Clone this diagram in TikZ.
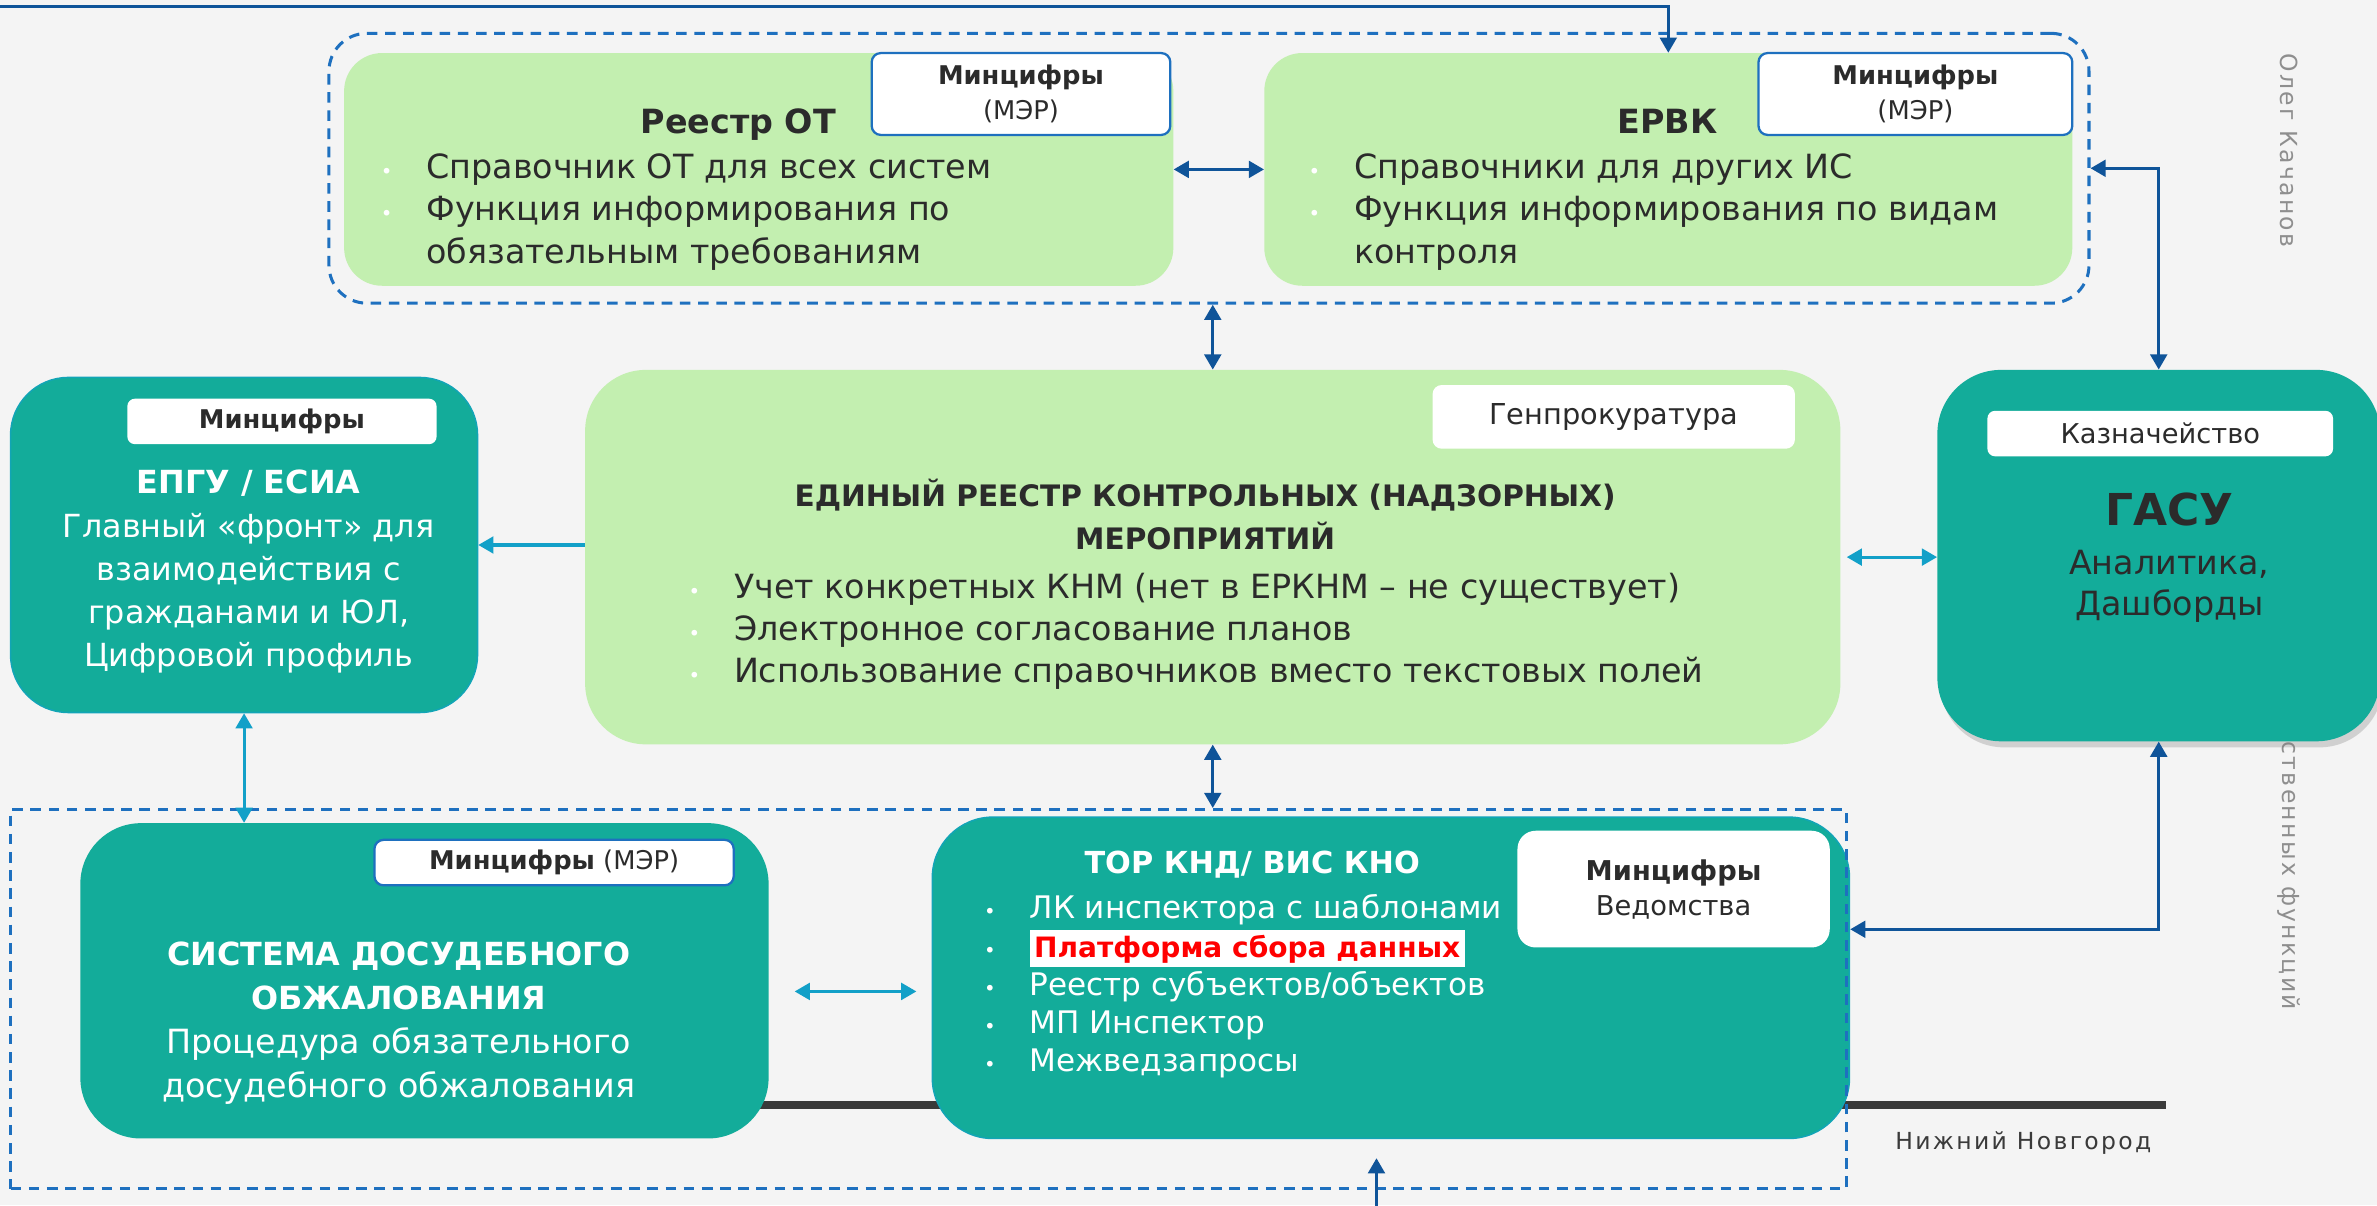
\documentclass[tikz,border=0pt]{standalone}
\usepackage{fontspec}
\setmainfont{DejaVu Sans}
\newfontfamily\spacedfont[LetterSpace=10]{DejaVu Sans}
\usepackage{xcolor}
\usepackage{tikz}
\usetikzlibrary{positioning,arrows.meta,shadows}

\definecolor{bggray}{HTML}{F4F4F4}
\definecolor{lightgreen}{HTML}{C3EFB0}
\definecolor{tealfill}{HTML}{13AC9A}
\definecolor{dashblue}{HTML}{1E70BF}
\definecolor{darkblue}{HTML}{0F5499}
\definecolor{lightblue}{HTML}{12A0C8}
\definecolor{darktext}{HTML}{2B2B2B}
\definecolor{graytext}{HTML}{8E8E8E}
\definecolor{rulegray}{HTML}{3A3A3A}

\newcommand{\bul}{\makebox[30pt][l]{\textcolor{white}{\fontsize{13}{13}\selectfont\textbullet}}}
\newcommand{\cont}{\makebox[30pt]{}}

\begin{document}
\begin{tikzpicture}[x=1pt, y=-1pt,
  greenbox/.style={fill=lightgreen, rounded corners=25pt, inner sep=0pt},
  tealnode/.style={fill=tealfill, rounded corners=40pt, inner sep=0pt},
  group/.style={draw=dashblue, line width=2pt, dash pattern=on 7pt off 5pt, inner sep=0pt},
  tag/.style={fill=white, rounded corners=6pt, inner sep=0pt, text=darktext, align=center, font=\fontsize{17}{23}\selectfont},
  bluetag/.style={tag, draw=dashblue, line width=1.5pt},
  boxtitle/.style={font=\fontsize{22}{28}\selectfont\bfseries, inner sep=0pt, anchor=base},
  list/.style={align=left, anchor=north west, inner sep=0pt, font=\fontsize{22}{28}\selectfont},
  link/.style={line width=2pt, -{Triangle[length=10pt,width=11pt]}},
  bilink/.style={line width=2pt, {Triangle[length=10pt,width=11pt]}-{Triangle[length=10pt,width=11pt]}},
  side/.style={text=graytext, rotate=-90, inner sep=0pt, anchor=west, font=\spacedfont\fontsize{15.5}{16}\selectfont}
]
\fill[bggray] (0,0) rectangle (1568,795);
\useasboundingbox (0,0) rectangle (1568,795);

% thick rule behind the lower boxes
\coordinate (ruleleft) at (490,729);
\coordinate (ruleright) at (1429,729);
\draw[rulegray, line width=5pt] (ruleleft) -- (ruleright);

% side captions
\node[side] (author) at (1510,35) {Олег Качанов};
\node[side] (footer) at (1510,478) {оственных функций};
\node[anchor=west, inner sep=0pt, text=rulegray, font=\spacedfont\fontsize{15.5}{16}\selectfont] (city) at (1250,754) {Нижний Новгород};

% top group
\node[group, rounded corners=25pt, minimum width=1161pt, minimum height=178pt] (topgrp) at (797.5,111) {};
\node[greenbox, minimum width=547pt, minimum height=153.5pt] (reestr) at (500.5,111.75) {};
\node[greenbox, minimum width=533pt, minimum height=153.5pt] (ervk) at (1100.5,111.75) {};

\node[boxtitle, text=darktext] (reestrtitle) at (487,88) {Реестр ОТ};
\node[list, text=darktext] (reestrlist) at (251,101) {\bul Справочник ОТ для всех систем\\ \bul Функция информирования по\\ \cont обязательным требованиям};
\node[boxtitle, text=darktext] (ervktitle) at (1100,88) {ЕРВК};
\node[list, text=darktext] (ervklist) at (863,101) {\bul Справочники для других ИС\\ \bul Функция информирования по видам\\ \cont контроля};

\node[bluetag, minimum width=197pt, minimum height=54pt] (reestrtag) at (673.5,62) {{\bfseries Минцифры}\\(МЭР)};
\node[bluetag, minimum width=207pt, minimum height=54pt] (ervktag) at (1263.5,62) {{\bfseries Минцифры}\\(МЭР)};

% middle row
\node[greenbox, rounded corners=40pt, minimum width=828pt, minimum height=247pt] (erknm) at (800,367.5) {};
\node[inner sep=0pt, anchor=north, align=center, text=darktext, font=\fontsize{19.5}{28}\selectfont\bfseries] (erknmtitle) at (795,316) {ЕДИНЫЙ РЕЕСТР КОНТРОЛЬНЫХ (НАДЗОРНЫХ)\\ МЕРОПРИЯТИЙ};
\node[list, text=darktext, font=\fontsize{22}{27.5}\selectfont] (erknmlist) at (454,378) {\bul Учет конкретных КНМ (нет в ЕРКНМ – не существует)\\ \bul Электронное согласование планов\\ \bul Использование справочников вместо текстовых полей};
\node[tag, font=\fontsize{19}{23}\selectfont, minimum width=239pt, minimum height=42pt] (erknmtag) at (1064.5,275) {Генпрокуратура};

\node[tealnode, rounded corners=38pt, draw=lightblue!60!tealfill, line width=1pt, minimum width=308pt, minimum height=221pt] (epgu) at (161,359.5) {};
\node[inner sep=0pt, anchor=north, align=center, text=white, font=\fontsize{21}{28.5}\selectfont] (epgutext) at (164,310) {{\bfseries ЕПГУ / ЕСИА}\\ Главный «фронт» для\\ взаимодействия с\\ гражданами и ЮЛ,\\ Цифровой профиль};
\node[tag, font=\fontsize{17}{23}\selectfont\bfseries, rounded corners=5pt, minimum width=204pt, minimum height=30pt] (epgutag) at (186,278) {Минцифры};

\node[tealnode, rounded corners=42pt, drop shadow={shadow xshift=2pt, shadow yshift=-4pt, opacity=0.3}, minimum width=292pt, minimum height=245pt] (gasu) at (1424,366.5) {};
\node[boxtitle, text=darktext, font=\fontsize{29}{32}\selectfont\bfseries] (gasutitle) at (1431,346.5) {ГАСУ};
\node[inner sep=0pt, anchor=base, align=center, text=darktext, font=\fontsize{22}{27}\selectfont] (gasutext) at (1431,406) {Аналитика,\\ Дашборды};
\node[tag, font=\fontsize{18}{23}\selectfont, rounded corners=5pt, minimum width=228pt, minimum height=30pt] (gasutag) at (1425,286) {Казначейство};

% bottom row
\node[tealnode, minimum width=454pt, minimum height=208pt] (sys) at (280,647) {};
\node[inner sep=0pt, anchor=north, align=center, text=white, font=\fontsize{22}{29}\selectfont] (systext) at (263,621) {{\bfseries\fontsize{21}{29}\selectfont СИСТЕМА ДОСУДЕБНОГО}\\ {\bfseries\fontsize{21}{29}\selectfont ОБЖАЛОВАНИЯ}\\ Процедура обязательного\\ досудебного обжалования};
\node[bluetag, minimum width=237pt, minimum height=30pt] (systag) at (365.5,569) {{\bfseries Минцифры} (МЭР)};

\node[tealnode, draw=lightblue!60!tealfill, line width=1pt, minimum width=605pt, minimum height=212pt] (tor) at (917.5,645) {};
\node[boxtitle, text=white, font=\fontsize{20}{25}\selectfont\bfseries] (tortitle) at (826,576) {ТОР КНД/ ВИС КНО};
\node[list, text=white, font=\fontsize{20.5}{25.2}\selectfont] (torlist) at (649,590) {\bul ЛК инспектора с шаблонами\\ \bul{\setlength{\fboxsep}{3pt}\colorbox{white}{\textcolor{red}{\bfseries\fontsize{18.5}{25.2}\selectfont Платформа сбора данных}}}\\ \bul Реестр субъектов/объектов\\ \bul МП Инспектор\\ \bul Межведзапросы};
\node[tag, rounded corners=12pt, font=\fontsize{18}{23}\selectfont, minimum width=206pt, minimum height=77pt] (tortag) at (1104,586.5) {{\bfseries Минцифры}\\ Ведомства};

\node[group, minimum width=1211pt, minimum height=250pt] (botgrp) at (612.5,659) {};

% connectors
\coordinate (topfeed) at (0,4);
\draw[darkblue, link] (topfeed) -| (ervk.north);
\draw[darkblue, bilink] (reestr.east) -- (ervk.west);
\draw[darkblue, bilink] (topgrp.south -| erknm.north) -- (erknm.north);
\draw[darkblue, bilink] (topgrp.east) -| (gasu.north);
\draw[darkblue, bilink] (gasu.south) |- ([yshift=32pt]tor.east);
\draw[darkblue, bilink] (erknm.south) -- (erknm.south |- botgrp.north);
\coordinate (botfeed) at (908,800);
\coordinate (botgrpin) at (908,764);
\draw[darkblue, link] (botfeed) -- (botgrpin);

\draw[lightblue, link] (erknm.west |- epgu.east) -- (epgu.east);
\draw[lightblue, bilink, shorten <=4pt] (erknm.east) -- (erknm.east -| gasu.west);
\draw[lightblue, bilink] (epgu.south) -- (epgu.south |- sys.north);
\coordinate (sysport) at ([yshift=-7pt]sys.east);
\draw[lightblue, bilink, shorten <=17pt, shorten >=10pt] (sysport) -- (sysport -| tor.west);

\end{tikzpicture}
\end{document}
